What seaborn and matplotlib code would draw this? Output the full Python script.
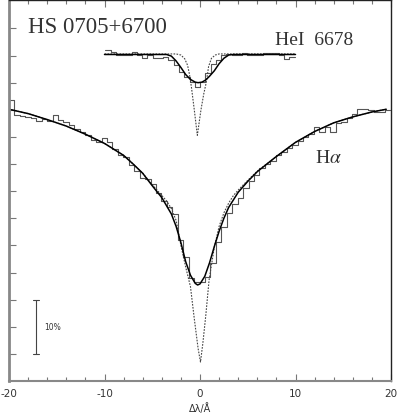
import numpy as np
import pandas as pd
import seaborn as sns
import matplotlib.pyplot as plt

# H-alpha: fitted model (solid) and second model (dotted)
ha_fit_x = [-20, -18, -16, -14, -12, -10, -8, -7, -6, -5, -4, -3, -2.5, -2, -1.5, -1, -0.5, -0.25,
            0, 0.5, 1, 1.5, 2, 2.5, 3, 4, 5, 6, 8, 10, 12, 14, 16, 18, 19.5]
ha_fit_y = [0.451, 0.443, 0.432, 0.420, 0.405, 0.388, 0.366, 0.350, 0.333, 0.310, 0.288, 0.258, 0.235,
            0.205, 0.170, 0.145, 0.130, 0.127, 0.129, 0.143, 0.168, 0.198, 0.226, 0.250, 0.270, 0.298,
            0.318, 0.336, 0.364, 0.390, 0.410, 0.426, 0.437, 0.446, 0.451]
ha_dot_x = [-20, -18, -16, -14, -12, -10, -8, -7, -6, -5, -4, -3.5, -3.0, -2.5, -2.0, -1.5, -1.0, -0.6,
            -0.2, 0.05, 0.3, 0.6, 0.95, 1.5, 2.0, 2.5, 3.0, 3.5, 4, 5, 6, 8, 10, 12, 14, 16, 18, 19.5]
ha_dot_y = [0.451, 0.443, 0.432, 0.420, 0.405, 0.388, 0.366, 0.350, 0.333, 0.312, 0.292, 0.282, 0.268,
            0.246, 0.200, 0.160, 0.124, 0.065, 0.010, -0.015, 0.020, 0.070, 0.136, 0.197, 0.235, 0.260,
            0.278, 0.292, 0.302, 0.320, 0.337, 0.364, 0.390, 0.410, 0.426, 0.437, 0.446, 0.451]
# observed H-alpha spectrum, bins of 0.57 A starting at -20
ha_obs = [0.468, 0.440, 0.439, 0.437, 0.435, 0.429, 0.433, 0.429, 0.440, 0.431,
          0.428, 0.422, 0.414, 0.409, 0.404, 0.394, 0.391, 0.398, 0.390, 0.378,
          0.366, 0.363, 0.348, 0.338, 0.325, 0.323, 0.314, 0.296, 0.281, 0.270,
          0.258, 0.210, 0.179, 0.139, 0.133, 0.133, 0.142, 0.167, 0.207, 0.234,
          0.259, 0.277, 0.287, 0.305, 0.318, 0.330, 0.342, 0.350, 0.356, 0.366,
          0.373, 0.379, 0.385, 0.392, 0.400, 0.406, 0.418, 0.409, 0.419, 0.410,
          0.425, 0.428, 0.434, 0.443, 0.452, 0.452, 0.449, 0.446, 0.446, 0.449]

# HeI 6678
hei_fit_x = [-10, -3.5, -3.0, -2.5, -2.0, -1.5, -1.0, -0.5, -0.2, 0.2, 0.6, 1.0, 1.5, 2.0, 2.5, 3.0, 3.5, 10]
hei_fit_y = [0.552, 0.552, 0.549, 0.540, 0.528, 0.515, 0.506, 0.501, 0.500, 0.501, 0.505, 0.512,
             0.522, 0.535, 0.545, 0.551, 0.552, 0.552]
hei_dot_x = [-10, -2.5, -2.0, -1.6, -1.3, -1.1, -0.9, -0.6, -0.28, 0.1, 0.4, 0.65, 0.9, 1.2, 1.6, 2.0, 10]
hei_dot_y = [0.553, 0.553, 0.551, 0.544, 0.532, 0.515, 0.492, 0.450, 0.403, 0.450, 0.480, 0.500,
             0.530, 0.545, 0.551, 0.553, 0.553]
# observed HeI spectrum, bins of 0.55 A starting at -9.9
hei_obs = [0.560, 0.557, 0.551, 0.551, 0.551, 0.557, 0.551, 0.545, 0.551, 0.546,
           0.546, 0.548, 0.541, 0.532, 0.520, 0.511, 0.501, 0.492, 0.501, 0.517,
           0.535, 0.541, 0.551, 0.553, 0.551, 0.551, 0.555, 0.551, 0.551, 0.551,
           0.555, 0.555, 0.555, 0.551, 0.543, 0.548]

x_ticks = [-20, -10, 0, 10, 20]
x_ticklabels = ["-20", "-10", "0", "10", "20"]


def step_frame(start, width, vals):
    edges = start + width * np.arange(len(vals) + 1)
    return pd.DataFrame({"x": edges, "y": list(vals) + [vals[-1]]})


sns.set_style("ticks")
plt.rcParams["font.family"] = ["DejaVu Sans"]
plt.rcParams["mathtext.fontset"] = "stix"

fig = plt.figure(figsize=(3.97, 4.14), dpi=100)
ax = fig.add_axes([0.0227, 0.0773, 0.9622, 0.921])

ha_steps = step_frame(-20.0, 0.57, ha_obs)
hei_steps = step_frame(-9.9, 0.55, hei_obs)
sns.lineplot(data=ha_steps, x="x", y="y", drawstyle="steps-post", color="#555555", lw=0.8, ax=ax)
sns.lineplot(data=hei_steps, x="x", y="y", drawstyle="steps-post", color="#555555", lw=0.8, ax=ax)

sns.lineplot(x=ha_dot_x, y=ha_dot_y, color="#444444", lw=0.8, linestyle=(0, (1.5, 1.2)), ax=ax)
sns.lineplot(x=hei_dot_x, y=hei_dot_y, color="#444444", lw=0.8, linestyle=(0, (1.5, 1.2)), ax=ax)
sns.lineplot(x=ha_fit_x, y=ha_fit_y, color="black", lw=1.1, ax=ax)
sns.lineplot(x=hei_fit_x, y=hei_fit_y, color="black", lw=1.1, ax=ax)

# 10% scale bar
ax.plot([-17.2, -17.2], [0.0, 0.1], color="#444444", lw=0.8)
ax.plot([-17.5, -16.9], [0.0, 0.0], color="#444444", lw=0.8)
ax.plot([-17.5, -16.9], [0.1, 0.1], color="#444444", lw=0.8)
ax.text(-16.3, 0.05, "10%", fontsize=5.5, va="center", ha="left", color="#333333")

ax.text(-18.0, 0.603, "HS 0705+6700", fontsize=16.5, family="Liberation Serif", color="#333333",
        va="center")
ax.text(7.9, 0.580, "HeI  6678", fontsize=14, family="Liberation Serif", color="#333333", va="center")
ax.text(12.0, 0.362, r"H$\alpha$", fontsize=14, family="Liberation Serif", color="#333333", va="center")

ax.set_xlim(-20, 20)
ax.set_ylim(-0.05, 0.653)
ax.set_xticks(x_ticks)
ax.set_xticklabels(x_ticklabels, fontsize=7.5, color="#333333")
ax.set_xticks(np.arange(-18, 20, 2), minor=True)
ax.set_yticks(np.arange(0, 0.61, 0.05))
ax.set_yticklabels([])
ax.tick_params(axis="x", which="major", direction="in", length=5, width=0.8, color="#777777",
               top=True, pad=5)
ax.tick_params(axis="x", which="minor", direction="in", length=3, width=0.8, color="#777777", top=True)
ax.tick_params(axis="y", direction="in", length=5, width=0.8, color="#777777", left=True, right=False)
ax.set_xlabel("\u0394\u03bb/\u00c5", fontsize=7, color="#333333", labelpad=3)
ax.set_ylabel("")

ax.spines["left"].set_color("#888888")
ax.spines["left"].set_linewidth(2.0)
ax.spines["bottom"].set_color("#888888")
ax.spines["bottom"].set_linewidth(1.5)
ax.spines["right"].set_color("#222222")
ax.spines["right"].set_linewidth(1.0)
ax.spines["top"].set_color("#222222")
ax.spines["top"].set_linewidth(1.0)

fig.savefig("out.png", dpi=100)
